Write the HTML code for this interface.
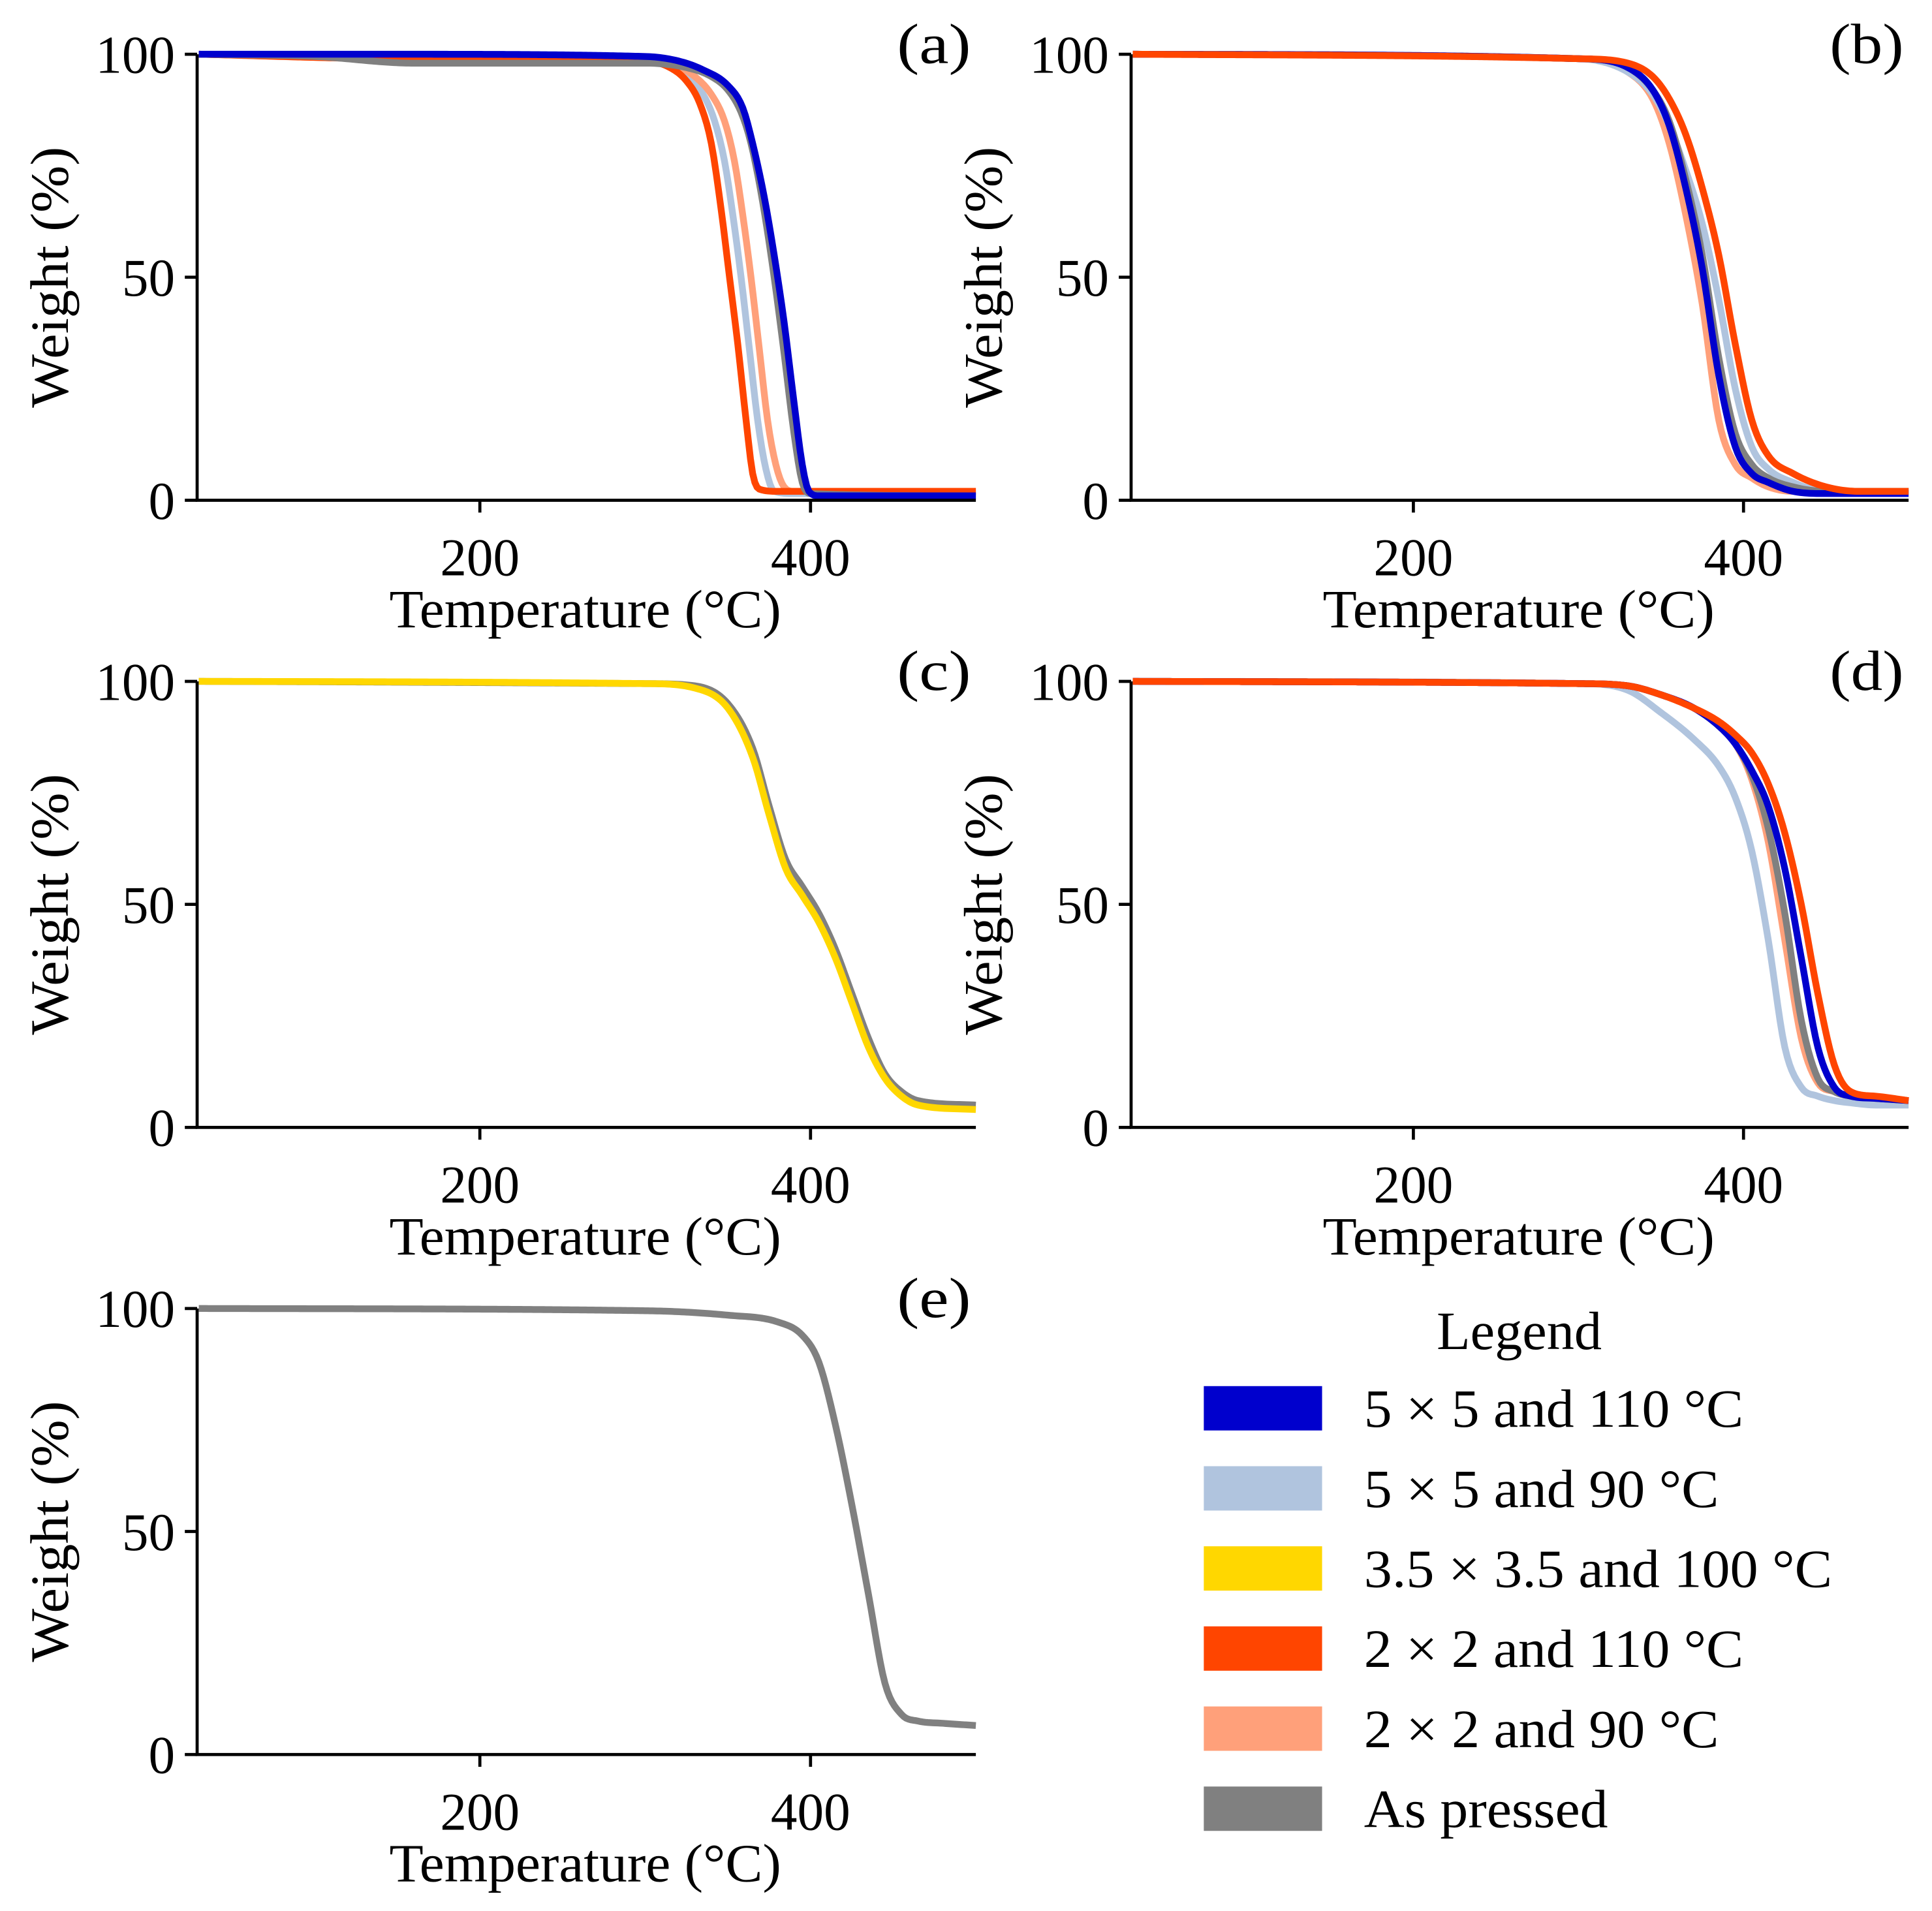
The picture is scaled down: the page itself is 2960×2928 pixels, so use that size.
<!DOCTYPE html>
<html><head><meta charset="utf-8"><style>
html,body{margin:0;padding:0;background:#fff}
svg{display:block}
text{font-family:"Liberation Serif",serif;fill:#000}
</style></head><body>
<svg id="fig" width="2960" height="2928" viewBox="0 0 1568 1551" xmlns="http://www.w3.org/2000/svg"></svg>
<script>
// ---- data ----
const seriesNames = ["5 × 5 and 110 °C","5 × 5 and 90 °C","3.5 × 3.5 and 100 °C","2 × 2 and 110 °C","2 × 2 and 90 °C","As pressed"];
const seriesColors = ["#0000cd","#b0c4de","#ffd700","#ff4500","#ffa07a","#808080"];
const xTicks = [200,400];
const yTicks = [0,50,100];
// panel a
const aBlueT = [30,150,300,320,335,350,359,365,372,378,384,390,395,399,405,500];
const aBlue  = [100,100,99.5,98.5,96.5,93,88,80,68,55,40,22,8,2,1,1];
const aLbT   = [30,150,300,315,325,335,342,348,353,358,363,368,373,378,390,500];
const aLightBlue = [100,100,99,97.5,95,91,85,76,64,50,34,18,7,2,1.5,1.5];
const aSalT  = [30,150,300,318,330,340,348,354,359,364,369,374,379,384,390,500];
const aSalmon = [100,99,99,97.5,95,91,85,76,64,50,34,18,8,3,2,2];
const aRedT  = [30,150,300,315,325,333,340,346,351,356,361,365,369,380,500];
const aRed   = [100,99,98.5,97,94,89,80,65,50,35,18,6,2.5,2,2];
const aGrayT = [30,100,160,300,325,340,350,358,364,371,378,384,390,395,400,500];
const aGray  = [100,99.5,98,98,97,95,92,87,80,67,50,33,15,4,1.5,1];
// panel b
const bTemp = [30,300,330,345,355,365,375,385,395,405,415,430,450,470,500];
const bBlue = [100,99,97,92,84,70,52,28,12,6,4,2,1.5,1.5,1.5];
const bLightBlue = [100,99,96,91,84,74,62,45,25,12,7,4,2,2,2];
const bRed = [100,99,98,95,90,82,70,55,35,18,10,6,3,2,2];
const bSalmon = [100,99,96,90,80,64,44,18,8,5,3,2,2,2,2];
const bGray = [100,99,97,92,85,72,55,32,15,8,5,3,2,2,2];
// panel c
const cTemp = [30,300,330,350,365,375,385,395,405,415,425,435,445,455,465,500];
const cGray = [100,99.5,99,95,85,72,60,54,48,40,30,20,12,8,6,5];
const cYellow = [100,99.5,98.5,94,83,70,58,52,46,38,28,18,11,7,5,4];
// panel d
const dTemp = [30,300,330,350,370,385,395,405,415,425,435,445,455,465,480,500];
const dBlue = [100,99.5,99,97,94,90,86,80,72,58,38,18,9,7,6.5,6];
const dLightBlue = [100,99.5,98,93,87,81,74,62,42,18,9,7,6,5.5,5,5];
const dRed = [100,99.5,99,97,94,91,88,84,77,66,50,30,14,8,7,6];
const dSalmon = [100,99.5,99,97,94,90,86,78,64,42,20,10,8,7,6.5,6];
const dGray = [100,99.5,99,97,94,90,86,79,67,48,24,11,8,7,6.5,6];
// panel e
const eTemp = [30,300,350,380,395,405,415,425,435,445,455,465,480,500];
const eGray = [100,99.5,98.5,97,94,88,74,56,36,16,9,7.5,7,6.5];

const panels = [
 {id:"a",label:"(a)",x0:160,x1:792,y0:406,y1:44,temps:[aLbT,aSalT,aRedT,aGrayT,aBlueT],series:[[1,aLightBlue],[4,aSalmon],[3,aRed],[5,aGray],[0,aBlue]]},
 {id:"b",label:"(b)",x0:918,x1:1549,y0:406,y1:44,temps:[bTemp,bTemp,bTemp,bTemp,bTemp],series:[[4,bSalmon],[1,bLightBlue],[5,bGray],[0,bBlue],[3,bRed]]},
 {id:"c",label:"(c)",x0:160,x1:792,y0:915,y1:553,temps:[cTemp,cTemp],series:[[5,cGray],[2,cYellow]]},
 {id:"d",label:"(d)",x0:918,x1:1549,y0:915,y1:553,temps:[dTemp,dTemp,dTemp,dTemp,dTemp],series:[[1,dLightBlue],[4,dSalmon],[5,dGray],[0,dBlue],[3,dRed]]},
 {id:"e",label:"(e)",x0:160,x1:792,y0:1424,y1:1062,temps:[eTemp],series:[[5,eGray]]}
];
const XMIN=29, XMAX=500, YMIN=0, YMAX=100;
const NS="http://www.w3.org/2000/svg";
const svg=document.getElementById("fig");
function mk(tag,attrs,parent){const e=document.createElementNS(NS,tag);for(const k in attrs)e.setAttribute(k,attrs[k]);(parent||svg).appendChild(e);return e;}
function txt(s,attrs,parent){const e=mk("text",attrs,parent);e.textContent=s;return e;}

// monotone cubic (Fritsch-Carlson) sampling
function monotone(X,Y){
  const n=X.length, d=[], m=new Array(n);
  for(let i=0;i<n-1;i++) d.push((Y[i+1]-Y[i])/(X[i+1]-X[i]));
  m[0]=d[0]; m[n-1]=d[n-2];
  for(let i=1;i<n-1;i++){ m[i]=(d[i-1]*d[i]<=0)?0:(d[i-1]+d[i])/2; }
  for(let i=0;i<n-1;i++){
    if(d[i]===0){m[i]=0;m[i+1]=0;continue;}
    const a=m[i]/d[i], b=m[i+1]/d[i], s=a*a+b*b;
    if(s>9){const t=3/Math.sqrt(s); m[i]=t*a*d[i]; m[i+1]=t*b*d[i];}
  }
  const out=[];
  for(let i=0;i<n-1;i++){
    const h=X[i+1]-X[i], steps=Math.max(2,Math.ceil(h/1.5));
    for(let k=0;k<steps;k++){
      const t=k/steps, t2=t*t, t3=t2*t;
      const y=(2*t3-3*t2+1)*Y[i]+(t3-2*t2+t)*h*m[i]+(-2*t3+3*t2)*Y[i+1]+(t3-t2)*h*m[i+1];
      out.push([X[i]+t*h,y]);
    }
  }
  out.push([X[n-1],Y[n-1]]);
  return out;
}

panels.forEach(p=>{
  const g=mk("g",{});
  
  
  const sx=v=>p.x0+(v-XMIN)/(XMAX-XMIN)*(p.x1-p.x0);
  const sy=v=>p.y0+(v-YMIN)/(YMAX-YMIN)*(p.y1-p.y0);
  p.series.forEach((s,i)=>{
    const pts=monotone(p.temps[i],s[1]);
    const d="M"+pts.map(q=>sx(q[0]).toFixed(2)+","+sy(q[1]).toFixed(2)).join(" L");
    const path=mk("path",{d:d,fill:"none",stroke:seriesColors[s[0]],"stroke-width":5.5,"stroke-linejoin":"round","stroke-linecap":"butt"},g);
    
    
  });
  const ax=mk("path",{d:`M${p.x0},${p.y1} L${p.x0},${p.y0} L${p.x1},${p.y0}`,fill:"none",stroke:"#000","stroke-width":2.5},g);
  
  
  yTicks.forEach(v=>{
    mk("line",{x1:p.x0-10,x2:p.x0,y1:sy(v),y2:sy(v),stroke:"#000","stroke-width":2.5},g);
    const t=txt(String(v),{x:p.x0-18,y:sy(v)+15,"font-size":43,"text-anchor":"end"},g);
    
    
  });
  xTicks.forEach(v=>{
    mk("line",{x1:sx(v),x2:sx(v),y1:p.y0,y2:p.y0+10,stroke:"#000","stroke-width":2.5},g);
    const t=txt(String(v),{x:sx(v),y:p.y0+61,"font-size":43,"text-anchor":"middle"},g);
    
    
  });
  const xt=txt("Temperature (°C)",{x:(p.x0+p.x1)/2-1,y:p.y0+103,"font-size":44,"text-anchor":"middle",textLength:318,lengthAdjust:"spacingAndGlyphs"},g);
  
  
  const yc=(p.y0+p.y1)/2;
  const yx=p.x0-120;
  const yt=txt("Weight (%)",{x:yx,y:yc,"font-size":44,"text-anchor":"middle",transform:`rotate(-90 ${yx} ${yc})`,dy:15,textLength:212,lengthAdjust:"spacingAndGlyphs"},g);
  
  
  const pl=txt(p.label,{x:p.x1-64,y:p.y1+7,"font-size":46,"text-anchor":"start",textLength:60,lengthAdjust:"spacingAndGlyphs"},g);
  
  
});

// legend
const lg=mk("g",{});


const lt=txt("Legend",{x:1233,y:1095,"font-size":44,"text-anchor":"middle",textLength:134,lengthAdjust:"spacingAndGlyphs"},lg);


const textLens=[308,288,380,308,288,198];
seriesNames.forEach((n,i)=>{
  const cy=1143+i*65;
  const r=mk("rect",{x:977,y:cy-18,width:96,height:36,fill:seriesColors[i]},lg);
  
  
  const t=txt(n,{x:1107,y:cy+15,"font-size":44,textLength:textLens[i],lengthAdjust:"spacingAndGlyphs"},lg);
  
  
});
</script>
</body></html>
